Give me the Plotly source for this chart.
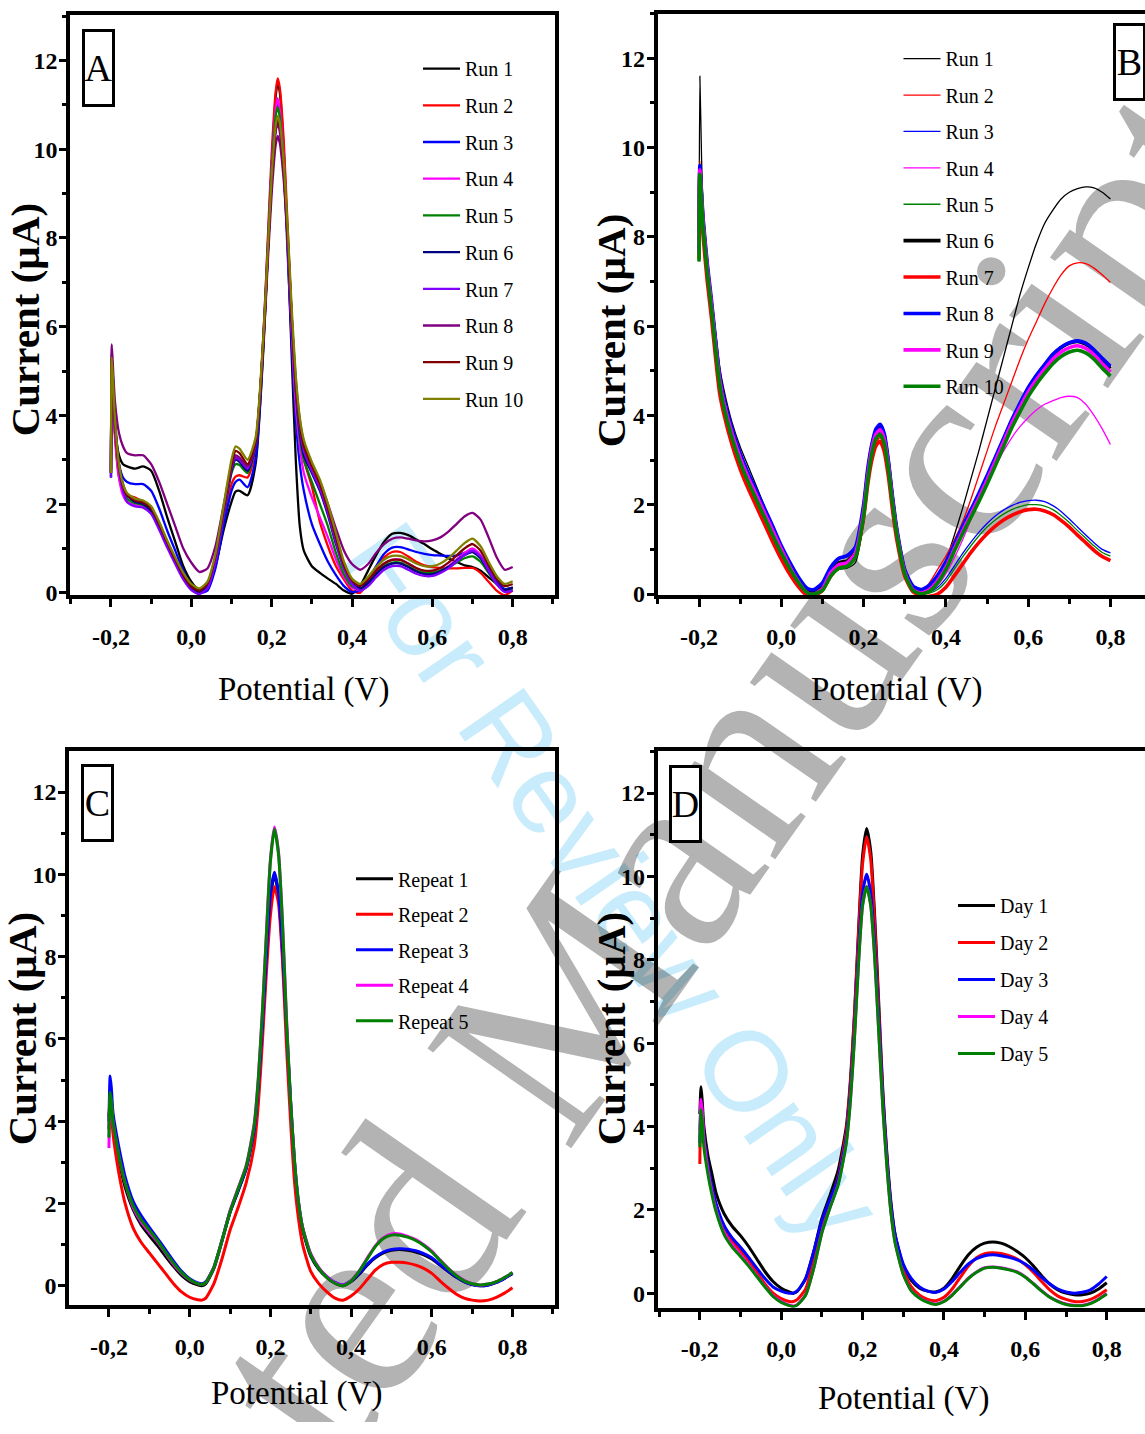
import base64
import plotly.graph_objects as go

W, H = 1145, 1434

# ---------------- Panel A : Run 1..10 ----------------
XA = [-0.2, -0.198, -0.194, -0.19, -0.18, -0.17, -0.16,
      -0.14, -0.12, -0.10, -0.08, -0.06, -0.04, -0.02,
      0.0, 0.02, 0.04, 0.06, 0.08,
      0.10, 0.11, 0.12, 0.14, 0.16, 0.18, 0.19,
      0.20, 0.21, 0.215, 0.22, 0.23, 0.24, 0.25, 0.26, 0.27, 0.28,
      0.30, 0.32, 0.34, 0.36, 0.38, 0.40,
      0.42, 0.44, 0.46, 0.48, 0.50, 0.52, 0.54, 0.56, 0.58, 0.60,
      0.62, 0.64, 0.66, 0.68, 0.70, 0.72, 0.74, 0.76, 0.78, 0.80]

A_RUN1 = [2.75, 5.0, 4.3, 3.7, 3.1, 2.9, 2.85,
          2.8, 2.85, 2.75, 2.3, 1.7, 1.15, 0.6,
          0.25, 0.05, 0.1, 0.6, 1.4,
          2.05, 2.28, 2.3, 2.2, 2.9, 5.6, 7.6,
          9.6, 11.2, 11.5, 11.3, 10.0, 7.8, 5.3, 3.0, 1.5, 0.95,
          0.6, 0.45, 0.32, 0.2, 0.05, -0.02,
          0.15, 0.5, 0.85, 1.15, 1.33, 1.35, 1.3, 1.2, 1.1, 0.98,
          0.88, 0.78, 0.7, 0.62, 0.58, 0.5, 0.35, 0.2, 0.08, 0.12]
A_RUN2 = [2.7, 5.2, 4.4, 3.5, 2.6, 2.3, 2.2,
          2.15, 2.05, 1.9, 1.55, 1.1, 0.7, 0.35,
          0.1, 0.0, 0.1, 0.7, 1.65,
          2.45, 2.62, 2.65, 2.6, 3.2, 5.9, 7.9,
          9.9, 11.3, 11.6, 11.4, 10.2, 8.2, 6.2, 4.5, 3.5, 3.0,
          2.4, 1.6, 1.05, 0.6, 0.3, 0.05,
          0.0, 0.25, 0.55, 0.8, 0.92, 0.92, 0.82, 0.7, 0.62, 0.58,
          0.56, 0.55, 0.55, 0.56, 0.56, 0.45, 0.25, 0.05, -0.05, 0.05]
A_RUN3 = [2.6, 4.9, 4.2, 3.6, 2.9, 2.6, 2.5,
          2.45, 2.45, 2.3, 1.9, 1.4, 0.95, 0.5,
          0.18, 0.0, 0.05, 0.55, 1.5,
          2.3, 2.5, 2.55, 2.38, 3.0, 5.7, 7.7,
          9.6, 10.8, 11.0, 10.8, 9.6, 7.6, 5.6, 3.9, 2.9, 2.3,
          1.55, 1.1, 0.7, 0.4, 0.15, 0.02,
          0.05, 0.3, 0.6, 0.88, 1.02, 1.03, 0.98, 0.92, 0.88, 0.85,
          0.84, 0.83, 0.84, 0.9, 0.95, 0.82, 0.55, 0.28, 0.08, 0.12]
A_RUN4 = [2.7, 5.0, 4.3, 3.6, 2.6, 2.2, 2.05,
          1.98, 1.95, 1.8, 1.45, 1.05, 0.68, 0.35,
          0.1, 0.0, 0.12, 0.72, 1.75,
          2.8, 3.05, 3.0, 2.8, 3.35, 5.9, 7.8,
          9.6, 10.9, 11.15, 10.9, 9.8, 7.9, 5.9, 4.2, 3.3, 2.7,
          2.15, 1.7, 1.25, 0.75, 0.35, 0.12,
          0.05, 0.2, 0.45, 0.65, 0.75, 0.75, 0.66, 0.55, 0.48, 0.46,
          0.5, 0.6, 0.75, 0.9, 1.0, 0.85, 0.5, 0.22, 0.05, 0.1]
A_RUN5 = [2.6, 5.2, 4.5, 3.8, 2.8, 2.35, 2.12,
          2.02, 1.98, 1.83, 1.48, 1.08, 0.7, 0.36,
          0.11, 0.02, 0.14, 0.74, 1.72,
          2.7, 2.9, 2.88, 2.7, 3.3, 5.8, 7.7,
          9.5, 10.75, 10.95, 10.75, 9.7, 8.0, 6.1, 4.5, 3.5, 3.0,
          2.5, 2.0, 1.5, 0.9, 0.42, 0.15,
          0.08, 0.2, 0.42, 0.6, 0.68, 0.68, 0.6, 0.5, 0.45, 0.45,
          0.5, 0.58, 0.68, 0.78, 0.82, 0.7, 0.45, 0.2, 0.06, 0.1]
A_RUN6 = [2.7, 5.4, 4.6, 3.9, 2.9, 2.45, 2.2,
          2.05, 2.0, 1.85, 1.5, 1.1, 0.72, 0.38,
          0.12, 0.02, 0.15, 0.75, 1.75,
          2.75, 3.0, 2.95, 2.75, 3.3, 5.8, 7.6,
          9.3, 10.5, 10.7, 10.5, 9.5, 8.0, 6.2, 4.6, 3.6, 3.1,
          2.7, 2.3, 1.75, 1.1, 0.55, 0.22,
          0.1, 0.22, 0.42, 0.58, 0.66, 0.66, 0.58, 0.48, 0.42, 0.42,
          0.48, 0.58, 0.72, 0.85, 0.92, 0.78, 0.48, 0.22, 0.06, 0.12]
A_RUN7 = [2.6, 5.3, 4.5, 3.8, 2.8, 2.3, 2.05,
          1.95, 1.92, 1.78, 1.42, 1.02, 0.65, 0.3,
          0.06, -0.03, 0.1, 0.7, 1.75,
          2.8, 3.05, 3.0, 2.8, 3.35, 5.8, 7.6,
          9.3, 10.4, 10.6, 10.4, 9.5, 7.9, 6.1, 4.6, 3.7, 3.2,
          2.75, 2.35, 1.8, 1.15, 0.55, 0.2,
          0.05, 0.15, 0.35, 0.52, 0.6, 0.6, 0.52, 0.43, 0.38, 0.38,
          0.45, 0.55, 0.7, 0.85, 0.95, 0.82, 0.5, 0.2, 0.02, 0.05]
A_RUN8 = [2.8, 5.6, 4.9, 4.3, 3.6, 3.3, 3.15,
          3.1, 3.1, 2.9, 2.5, 2.0, 1.5, 1.0,
          0.68, 0.47, 0.55, 1.05, 1.95,
          2.85, 3.1, 3.05, 2.85, 3.4, 5.7, 7.4,
          9.0, 10.1, 10.3, 10.15, 9.3, 7.9, 6.2, 4.8, 3.9, 3.4,
          2.9, 2.5, 2.0, 1.45, 0.95, 0.65,
          0.52, 0.65, 0.9, 1.1, 1.22, 1.25, 1.22, 1.18, 1.16, 1.18,
          1.25, 1.38, 1.55, 1.72, 1.8, 1.65, 1.25, 0.8, 0.52, 0.58]
A_RUN9 = [2.7, 5.3, 4.5, 3.8, 2.85, 2.4, 2.2,
          2.08, 2.04, 1.9, 1.55, 1.14, 0.75, 0.4,
          0.14, 0.05, 0.2, 0.82, 1.85,
          2.9, 3.2, 3.15, 2.9, 3.4, 5.8, 7.6,
          9.3, 10.45, 10.65, 10.5, 9.6, 8.0, 6.2, 4.7, 3.8, 3.3,
          2.85, 2.45, 1.9, 1.25, 0.62, 0.28,
          0.15, 0.3, 0.5, 0.66, 0.74, 0.74, 0.66, 0.56, 0.5, 0.5,
          0.56, 0.68, 0.84, 1.0, 1.1, 0.95, 0.62, 0.32, 0.15, 0.2]
A_RUN10 = [2.7, 5.3, 4.6, 3.9, 2.9, 2.45, 2.25,
           2.12, 2.08, 1.95, 1.6, 1.18, 0.8, 0.45,
           0.2, 0.1, 0.25, 0.88, 1.95,
           3.0, 3.3, 3.25, 3.0, 3.5, 5.9, 7.7,
           9.4, 10.55, 10.75, 10.6, 9.7, 8.2, 6.4, 4.9, 3.95, 3.45,
           2.95, 2.55, 2.0, 1.35, 0.7, 0.32,
           0.2, 0.36, 0.58, 0.75, 0.83, 0.83, 0.76, 0.66, 0.6, 0.6,
           0.66, 0.78, 0.95, 1.12, 1.22, 1.05, 0.7, 0.38, 0.2, 0.26]

# ---------------- Panel B : Run 1..10 ----------------
XB = [-0.2, -0.198, -0.194, -0.19, -0.18, -0.17, -0.16,
      -0.15, -0.14,
      -0.12, -0.10, -0.08, -0.06, -0.04, -0.02,
      0.0, 0.02, 0.04, 0.06, 0.07, 0.08,
      0.10, 0.12, 0.14, 0.16, 0.18,
      0.20, 0.21, 0.22, 0.23, 0.24, 0.25, 0.26, 0.27, 0.28,
      0.30, 0.32, 0.34, 0.36, 0.38, 0.40,
      0.42, 0.44, 0.46, 0.48, 0.50, 0.52, 0.54, 0.56, 0.58, 0.60,
      0.62, 0.64, 0.66, 0.68, 0.70, 0.72, 0.74, 0.76, 0.78, 0.80]

B_RUN1 = [7.8, 11.6, 9.8, 8.6, 7.5, 6.7, 5.9,
          5.1, 4.6,
          3.85, 3.3, 2.85, 2.4, 1.95, 1.5,
          1.1, 0.72, 0.4, 0.15, 0.08, 0.08,
          0.15, 0.42, 0.55, 0.58, 0.7,
          1.6, 2.5, 3.15, 3.5, 3.62, 3.4, 2.8, 2.05, 1.4,
          0.55, 0.18, 0.08, 0.12, 0.35, 0.75,
          1.3, 1.9, 2.55, 3.2, 3.9, 4.6, 5.3, 6.0, 6.7, 7.3,
          7.85, 8.3, 8.6, 8.85, 9.0, 9.08, 9.12, 9.1, 9.0, 8.85]
B_RUN2 = [7.6, 9.7, 8.8, 8.2, 7.2, 6.4, 5.5,
          4.7, 4.2,
          3.5, 2.95, 2.5, 2.1, 1.7, 1.3,
          0.92, 0.58, 0.28, 0.05, 0.0, 0.0,
          0.12, 0.45, 0.62, 0.66, 0.85,
          1.75, 2.55, 3.1, 3.4, 3.5, 3.3, 2.75, 2.0, 1.35,
          0.5, 0.15, 0.05, 0.25, 0.55, 0.85,
          1.2, 1.6, 2.1, 2.65, 3.2, 3.75, 4.25, 4.75, 5.25, 5.7,
          6.1, 6.5, 6.85, 7.15, 7.35, 7.42, 7.4, 7.3, 7.15, 6.98]
B_RUN3 = [7.7, 9.6, 8.9, 8.3, 7.3, 6.5, 5.6,
          4.8, 4.3,
          3.6, 3.05, 2.6, 2.2, 1.8, 1.4,
          1.0, 0.66, 0.36, 0.12, 0.08, 0.08,
          0.22, 0.58, 0.78, 0.84, 1.05,
          2.0, 2.8, 3.35, 3.7, 3.8, 3.6, 3.0, 2.2, 1.5,
          0.55, 0.18, 0.08, 0.05, 0.15, 0.35,
          0.62, 0.9, 1.15, 1.38, 1.58, 1.75, 1.88, 1.98, 2.05, 2.09,
          2.1, 2.07, 1.98, 1.85, 1.68, 1.5, 1.32, 1.15, 1.0, 0.92]
B_RUN4 = [7.6, 9.5, 8.8, 8.2, 7.2, 6.4, 5.5,
          4.75, 4.25,
          3.55, 3.0, 2.55, 2.15, 1.75, 1.35,
          0.95, 0.6, 0.3, 0.06, 0.02, 0.02,
          0.15, 0.5, 0.68, 0.72, 0.92,
          1.85, 2.65, 3.25, 3.6, 3.7, 3.5, 2.9, 2.1, 1.42,
          0.5, 0.12, 0.03, 0.05, 0.2, 0.45,
          0.8, 1.2, 1.65, 2.1, 2.5, 2.85, 3.2, 3.5, 3.75, 3.95,
          4.12, 4.25, 4.33, 4.4, 4.43, 4.4, 4.25, 4.0, 3.7, 3.35]
B_RUN5 = [7.45, 9.4, 8.7, 8.1, 7.1, 6.3, 5.45,
          4.7, 4.2,
          3.5, 2.95, 2.5, 2.1, 1.7, 1.3,
          0.92, 0.58, 0.28, 0.05, 0.0, 0.0,
          0.1, 0.38, 0.55, 0.6, 0.8,
          1.7, 2.5, 3.1, 3.45, 3.55, 3.35, 2.8, 2.05, 1.38,
          0.48, 0.12, 0.02, 0.02, 0.1, 0.28,
          0.55, 0.82, 1.07, 1.3, 1.5, 1.66, 1.79, 1.89, 1.96, 2.0,
          2.0, 1.97, 1.89, 1.76, 1.6, 1.42, 1.25, 1.08, 0.93, 0.85]
B_RUN6 = [7.6, 9.5, 8.9, 8.3, 7.3, 6.5, 5.6,
          4.8, 4.3,
          3.6, 3.05, 2.6, 2.2, 1.8, 1.4,
          1.0, 0.65, 0.35, 0.1, 0.05, 0.05,
          0.18, 0.52, 0.7, 0.74, 0.95,
          1.9, 2.7, 3.3, 3.65, 3.78, 3.55, 2.95, 2.15, 1.45,
          0.5, 0.12, 0.06, 0.15, 0.35, 0.65,
          1.05, 1.45, 1.82, 2.2, 2.6, 3.02, 3.45, 3.88, 4.25, 4.6,
          4.88, 5.12, 5.35, 5.52, 5.62, 5.66, 5.6, 5.45, 5.25, 5.05]
B_RUN7 = [7.5, 9.4, 8.6, 8.0, 7.0, 6.2, 5.3,
          4.5, 4.05,
          3.35, 2.8, 2.35, 1.95, 1.55, 1.15,
          0.78, 0.45, 0.18, -0.02, -0.05, -0.04,
          0.08, 0.4, 0.6, 0.65, 0.85,
          1.7, 2.45, 3.0, 3.32, 3.42, 3.2, 2.65, 1.9, 1.25,
          0.4, 0.05, -0.05, -0.05, 0.0, 0.15,
          0.4, 0.66, 0.92, 1.15, 1.35, 1.52, 1.66, 1.76, 1.84, 1.89,
          1.9, 1.86, 1.78, 1.65, 1.5, 1.32, 1.15, 0.98, 0.84, 0.75]
B_RUN8 = [7.7, 9.6, 9.0, 8.4, 7.4, 6.6, 5.7,
          4.9, 4.4,
          3.7, 3.15, 2.7, 2.3, 1.9, 1.5,
          1.08, 0.72, 0.4, 0.15, 0.1, 0.1,
          0.25, 0.6, 0.8, 0.86, 1.05,
          2.0, 2.8, 3.35, 3.7, 3.8, 3.6, 3.0, 2.2, 1.5,
          0.55, 0.18, 0.1, 0.2, 0.42, 0.72,
          1.1, 1.5, 1.87, 2.25, 2.65, 3.06, 3.48, 3.9, 4.27, 4.62,
          4.9, 5.14, 5.37, 5.53, 5.63, 5.67, 5.62, 5.47, 5.28, 5.1]
B_RUN9 = [7.6, 9.5, 8.9, 8.3, 7.3, 6.5, 5.6,
          4.8, 4.3,
          3.6, 3.05, 2.6, 2.2, 1.8, 1.4,
          1.0, 0.62, 0.3, 0.05, 0.0, 0.0,
          0.12, 0.48, 0.66, 0.7, 0.92,
          1.85, 2.65, 3.25, 3.58, 3.68, 3.48, 2.9, 2.1, 1.42,
          0.48, 0.1, 0.02, 0.1, 0.3, 0.6,
          1.0, 1.4, 1.77, 2.15, 2.55, 2.97, 3.4, 3.82, 4.18, 4.52,
          4.8, 5.04, 5.26, 5.42, 5.52, 5.56, 5.5, 5.36, 5.16, 4.98]
B_RUN10 = [7.45, 9.4, 8.8, 8.2, 7.2, 6.4, 5.5,
           4.7, 4.2,
           3.5, 2.95, 2.5, 2.1, 1.7, 1.3,
           0.92, 0.58, 0.28, 0.05, 0.0, 0.0,
           0.08, 0.4, 0.58, 0.62, 0.82,
           1.75, 2.55, 3.15, 3.48, 3.58, 3.38, 2.82, 2.05, 1.38,
           0.45, 0.08, 0.0, 0.06, 0.25, 0.55,
           0.95, 1.34, 1.7, 2.07, 2.46, 2.87, 3.3, 3.72, 4.08, 4.42,
           4.7, 4.94, 5.16, 5.32, 5.42, 5.46, 5.4, 5.26, 5.06, 4.88]

# ---------------- Panels C and D share a potential grid ----------------
XCD = [-0.2, -0.197, -0.194, -0.19, -0.18, -0.17, -0.16,
       -0.14, -0.12, -0.10, -0.08, -0.06, -0.04, -0.02,
       0.0, 0.02, 0.03, 0.04, 0.06, 0.08,
       0.10, 0.12, 0.14, 0.16, 0.17, 0.18, 0.19,
       0.20, 0.21, 0.22, 0.23, 0.24, 0.25, 0.26, 0.27, 0.28,
       0.30, 0.32, 0.34, 0.36, 0.38, 0.40,
       0.42, 0.44, 0.46, 0.48, 0.50, 0.52, 0.54, 0.56, 0.58, 0.60,
       0.62, 0.64, 0.66, 0.68, 0.70, 0.72, 0.74, 0.76, 0.78, 0.80]

C_REPEAT1 = [3.8, 4.6, 4.4, 3.9, 3.3, 2.8, 2.4,
             1.85, 1.48, 1.22, 0.98, 0.72, 0.47, 0.25,
             0.1, 0.02, 0.0, 0.05, 0.42, 1.08,
             1.78, 2.3, 2.85, 3.8, 4.8, 6.2, 7.9,
             9.4, 10.0, 9.5, 8.1, 6.2, 4.4, 2.9, 1.95, 1.35,
             0.72, 0.4, 0.2, 0.06, 0.0, 0.1,
             0.28, 0.5, 0.68, 0.8, 0.86, 0.88, 0.86, 0.82, 0.75, 0.65,
             0.5, 0.35, 0.21, 0.1, 0.03, 0.0, 0.02, 0.08, 0.18, 0.3]
C_REPEAT2 = [4.1, 4.5, 4.2, 3.7, 3.0, 2.45, 2.0,
             1.4, 1.05, 0.8, 0.55, 0.3, 0.05, -0.15,
             -0.28, -0.34, -0.35, -0.3, 0.05, 0.65,
             1.35, 1.9, 2.5, 3.4, 4.4, 5.9, 7.6,
             9.0, 9.7, 9.3, 7.9, 5.8, 4.0, 2.5, 1.6, 1.0,
             0.35, 0.05, -0.15, -0.3, -0.35, -0.25,
             -0.08, 0.15, 0.38, 0.52, 0.57, 0.57, 0.55, 0.5, 0.42, 0.3,
             0.12, -0.05, -0.2, -0.3, -0.35, -0.37, -0.35, -0.28, -0.18, -0.05]
C_REPEAT3 = [4.0, 5.1, 4.8, 4.2, 3.6, 3.1, 2.65,
             2.05, 1.7, 1.42, 1.15, 0.88, 0.6, 0.35,
             0.17, 0.07, 0.05, 0.1, 0.45, 1.1,
             1.8, 2.32, 2.85, 3.8, 4.85, 6.3, 8.0,
             9.5, 10.05, 9.55, 8.2, 6.3, 4.5, 3.0, 2.0, 1.4,
             0.75, 0.42, 0.22, 0.08, 0.02, 0.12,
             0.3, 0.52, 0.7, 0.82, 0.88, 0.9, 0.89, 0.85, 0.78, 0.68,
             0.52, 0.36, 0.22, 0.1, 0.03, 0.0, 0.02, 0.08, 0.18, 0.3]
C_REPEAT4 = [3.35, 4.6, 4.45, 4.0, 3.4, 2.9, 2.5,
             1.9, 1.55, 1.3, 1.07, 0.8, 0.52, 0.3,
             0.14, 0.05, 0.03, 0.08, 0.45, 1.1,
             1.82, 2.37, 2.92, 3.95, 5.05, 6.65, 8.55,
             10.35, 11.15, 10.55, 8.85, 6.5, 4.5, 3.0, 2.02, 1.42,
             0.78, 0.44, 0.22, 0.07, 0.01, 0.13,
             0.36, 0.67, 0.97, 1.17, 1.26, 1.26, 1.2, 1.12, 1.0, 0.84,
             0.63, 0.43, 0.26, 0.13, 0.05, 0.02, 0.04, 0.1, 0.2, 0.32]
C_REPEAT5 = [3.6, 4.7, 4.5, 4.0, 3.4, 2.9, 2.5,
             1.95, 1.6, 1.35, 1.1, 0.82, 0.55, 0.32,
             0.15, 0.05, 0.03, 0.08, 0.45, 1.1,
             1.8, 2.35, 2.9, 3.9, 5.0, 6.6, 8.5,
             10.3, 11.1, 10.5, 8.8, 6.4, 4.5, 3.0, 2.0, 1.4,
             0.75, 0.42, 0.2, 0.06, 0.0, 0.12,
             0.35, 0.65, 0.95, 1.15, 1.23, 1.23, 1.18, 1.1, 0.98, 0.82,
             0.62, 0.42, 0.25, 0.12, 0.05, 0.02, 0.04, 0.1, 0.2, 0.32]

D_DAY1 = [4.3, 4.95, 4.6, 4.0, 3.3, 2.85, 2.4,
          1.9, 1.6, 1.38, 1.12, 0.82, 0.52, 0.28,
          0.12, 0.03, 0.0, 0.05, 0.35, 1.0,
          1.8, 2.35, 2.95, 4.0, 5.1, 6.7, 8.7,
          10.5, 11.15, 10.6, 9.0, 6.9, 4.8, 3.3, 2.15, 1.4,
          0.65, 0.3, 0.12, 0.05, 0.03, 0.12,
          0.35, 0.65, 0.92, 1.1, 1.2, 1.23, 1.2, 1.12, 1.0, 0.85,
          0.65, 0.42, 0.22, 0.08, 0.0, -0.04, -0.04, 0.0, 0.1, 0.25]
D_DAY2 = [3.1, 4.55, 4.3, 3.7, 3.0, 2.5, 2.1,
          1.55, 1.25, 1.02, 0.78, 0.5, 0.22, 0.0,
          -0.13, -0.2, -0.2, -0.15, 0.1, 0.8,
          1.62, 2.2, 2.78, 3.9, 5.0, 6.6, 8.6,
          10.3, 10.95, 10.4, 8.8, 6.7, 4.7, 3.2, 2.0, 1.3,
          0.55, 0.15, -0.05, -0.15, -0.18, -0.1,
          0.1, 0.38, 0.65, 0.85, 0.95, 0.97, 0.95, 0.9, 0.82, 0.68,
          0.5, 0.28, 0.08, -0.07, -0.15, -0.2, -0.2, -0.15, -0.05, 0.08]
D_DAY3 = [3.6, 4.5, 4.3, 3.75, 3.05, 2.55, 2.15,
          1.62, 1.32, 1.1, 0.86, 0.6, 0.35, 0.15,
          0.05, 0.0, 0.0, 0.06, 0.35, 1.0,
          1.75, 2.25, 2.75, 3.75, 4.8, 6.3, 8.2,
          9.6, 10.05, 9.6, 8.3, 6.5, 4.65, 3.2, 2.1, 1.4,
          0.7, 0.35, 0.15, 0.05, 0.02, 0.1,
          0.28, 0.5, 0.7, 0.83, 0.9, 0.92, 0.9, 0.86, 0.8, 0.7,
          0.55, 0.38, 0.22, 0.1, 0.03, 0.0, 0.02, 0.08, 0.22, 0.4]
D_DAY4 = [3.9, 4.65, 4.35, 3.7, 2.95, 2.42, 2.0,
          1.45, 1.15, 0.92, 0.68, 0.42, 0.17, -0.06,
          -0.2, -0.29, -0.31, -0.27, -0.04, 0.6,
          1.46, 2.06, 2.62, 3.62, 4.62, 6.12, 7.92,
          9.32, 9.76, 9.32, 8.02, 6.22, 4.42, 3.02, 1.92, 1.22,
          0.46, 0.06, -0.11, -0.21, -0.26, -0.19,
          -0.04, 0.16, 0.36, 0.51, 0.61, 0.63, 0.61, 0.57, 0.51, 0.39,
          0.23, 0.06, -0.09, -0.19, -0.26, -0.29, -0.29, -0.24, -0.14, -0.01]
D_DAY5 = [3.5, 4.4, 4.1, 3.5, 2.85, 2.35, 1.95,
          1.4, 1.1, 0.88, 0.65, 0.4, 0.15, -0.08,
          -0.22, -0.3, -0.32, -0.28, -0.05, 0.6,
          1.45, 2.05, 2.6, 3.6, 4.6, 6.1, 7.9,
          9.3, 9.75, 9.3, 8.0, 6.2, 4.4, 3.0, 1.9, 1.2,
          0.45, 0.05, -0.12, -0.22, -0.27, -0.2,
          -0.05, 0.15, 0.35, 0.5, 0.6, 0.62, 0.6, 0.56, 0.5, 0.38,
          0.22, 0.05, -0.1, -0.2, -0.27, -0.3, -0.3, -0.25, -0.15, -0.02]

# ---------------- labels / ticks ----------------
RUN_LABELS = ["Run 1", "Run 2", "Run 3", "Run 4", "Run 5",
              "Run 6", "Run 7", "Run 8", "Run 9", "Run 10"]
REPEAT_LABELS = ["Repeat 1", "Repeat 2", "Repeat 3", "Repeat 4", "Repeat 5"]
DAY_LABELS = ["Day 1", "Day 2", "Day 3", "Day 4", "Day 5"]
PANEL_LETTERS = ["A", "B", "C", "D"]
X_TICK_VALUES = [-0.2, 0.0, 0.2, 0.4, 0.6, 0.8]
X_TICK_LABELS = ["-0,2", "0,0", "0,2", "0,4", "0,6", "0,8"]
Y_TICK_VALUES = [0, 2, 4, 6, 8, 10, 12]
Y_TICK_LABELS = ["0", "2", "4", "6", "8", "10", "12"]
X_TITLE = "Potential (V)"
Y_TITLE = "Current (µA)"

A_SERIES = [A_RUN1, A_RUN2, A_RUN3, A_RUN4, A_RUN5, A_RUN6, A_RUN7, A_RUN8, A_RUN9, A_RUN10]
B_SERIES = [B_RUN1, B_RUN2, B_RUN3, B_RUN4, B_RUN5, B_RUN6, B_RUN7, B_RUN8, B_RUN9, B_RUN10]
C_SERIES = [C_REPEAT1, C_REPEAT2, C_REPEAT3, C_REPEAT4, C_REPEAT5]
D_SERIES = [D_DAY1, D_DAY2, D_DAY3, D_DAY4, D_DAY5]

for grid, series in ((XA, A_SERIES), (XB, B_SERIES), (XCD, C_SERIES), (XCD, D_SERIES)):
    for s in series:
        assert len(s) == len(grid), (len(s), len(grid))

# ---------------- styles ----------------
COLORS10 = ["#000000", "#ff0000", "#0000ff", "#ff00ff", "#008000",
            "#000080", "#8000ff", "#800080", "#800000", "#808000"]
COLORS5 = ["#000000", "#ff0000", "#0000ff", "#ff00ff", "#008000"]
B_COLORS = COLORS5 + COLORS5
B_WIDTHS = [1.3, 1.3, 1.3, 1.3, 1.3, 3.6, 3.6, 3.6, 3.6, 3.6]
SERIF = "Liberation Serif, Times New Roman, serif"

fig = go.Figure()


def add_panel(xs, series, names, colors, widths, xa, ya, legend, tag):
    for i, ys in enumerate(series):
        fig.add_trace(go.Scatter(
            x=xs, y=ys, mode="lines", name=names[i],
            line=dict(color=colors[i], width=widths[i], shape="spline", smoothing=0.6),
            xaxis=xa, yaxis=ya, legend=legend, legendgroup=f"{tag}{i}",
            showlegend=True))


add_panel(XA, A_SERIES, RUN_LABELS, COLORS10, [2.3] * 10, "x", "y", "legend", "A")
add_panel(XB, B_SERIES, RUN_LABELS, B_COLORS, B_WIDTHS, "x2", "y2", "legend2", "B")
add_panel(XCD, C_SERIES, REPEAT_LABELS, COLORS5, [3.0] * 5, "x3", "y3", "legend3", "C")
add_panel(XCD, D_SERIES, DAY_LABELS, COLORS5, [3.0] * 5, "x4", "y4", "legend4", "D")


def xaxis(domain, rng, anchor, mirror=True):
    return dict(
        domain=domain, range=rng, anchor=anchor, showgrid=False, zeroline=False,
        showline=True, linecolor="black", linewidth=3.5, mirror=mirror,
        ticks="outside", ticklen=8, tickwidth=3, tickcolor="black",
        tickmode="array", tickvals=X_TICK_VALUES, ticktext=X_TICK_LABELS,
        tickfont=dict(family=SERIF, size=24, color="black", weight="bold"),
        ticklabelstandoff=9,
        minor=dict(tickmode="linear", tick0=0, dtick=0.1, ticks="outside",
                   ticklen=5, tickwidth=2.5, tickcolor="black", showgrid=False),
    )


def yaxis(domain, rng, anchor, mirror=True):
    return dict(
        domain=domain, range=rng, anchor=anchor, showgrid=False, zeroline=False,
        showline=True, linecolor="black", linewidth=3.5, mirror=mirror,
        ticks="outside", ticklen=7, tickwidth=3, tickcolor="black",
        tickmode="array", tickvals=Y_TICK_VALUES, ticktext=Y_TICK_LABELS,
        tickfont=dict(family=SERIF, size=24, color="black", weight="bold"),
        ticklabelstandoff=-3,
        minor=dict(tickmode="linear", tick0=0, dtick=1, ticks="outside",
                   ticklen=4, tickwidth=2.5, tickcolor="black", showgrid=False),
    )


def fx(p):
    return p / W


def fy(p):
    return 1 - p / H


def legend_cfg(left, top, gap):
    return dict(x=fx(left), y=fy(top), xanchor="left", yanchor="top",
                bgcolor="rgba(0,0,0,0)", borderwidth=0, traceorder="grouped",
                tracegroupgap=gap, itemwidth=37,
                font=dict(family=SERIF, size=20, color="black"))


# watermark drawn underneath everything
wm_svg = (
    f'<svg xmlns="http://www.w3.org/2000/svg" width="{W}" height="{H}" viewBox="0 0 {W} {H}">'
    '<text x="-52" y="2048" transform="rotate(-55 -52 2048)" '
    'font-family="Liberation Serif" font-size="268" fill="#b3b3b3">Accepted Manuscript</text>'
    '<text x="580" y="912" text-anchor="middle" transform="rotate(55 580 912)" '
    'font-family="Liberation Sans" font-size="115" fill="#c8ecfb" '
    'style="mix-blend-mode:multiply">For Review Only</text>'
    '</svg>'
)
wm_src = "data:image/svg+xml;base64," + base64.b64encode(wm_svg.encode("utf-8")).decode("ascii")

annotations = []
for letter, (cx, cy) in zip(PANEL_LETTERS, [(98, 68.5), (1129, 62.5), (97, 810), (685, 811)]):
    annotations.append(dict(
        text=letter, x=fx(cx), y=fy(cy), xref="paper", yref="paper", showarrow=False,
        xanchor="center", yanchor="middle",
        font=dict(family=SERIF, size=38, color="black"),
        bordercolor="black", borderwidth=3, borderpad=0, width=27, height=72,
        bgcolor="white"))

# axis titles placed at the reference positions
for (cx, cy) in [(303, 695), (896, 695), (296, 1405), (903, 1410)]:
    annotations.append(dict(
        text=X_TITLE, x=fx(cx), y=fy(cy), xref="paper", yref="paper", showarrow=False,
        xanchor="center", yanchor="middle",
        font=dict(family=SERIF, size=33, color="black")))
for (cx, cy) in [(25, 322), (611, 333), (22, 1037), (611, 1037)]:
    annotations.append(dict(
        text=Y_TITLE, x=fx(cx), y=fy(cy), xref="paper", yref="paper", showarrow=False,
        xanchor="center", yanchor="middle", textangle=-90,
        font=dict(family=SERIF, size=41, color="black", weight="bold")))

fig.update_layout(
    width=W, height=H, autosize=False,
    margin=dict(l=0, r=0, t=0, b=0),
    paper_bgcolor="white", plot_bgcolor="rgba(0,0,0,0)",
    showlegend=True,
    xaxis=xaxis([fx(70), fx(554.5)], [-0.302, 0.904], "y"),
    yaxis=yaxis([fy(600.5), fy(15)], [-0.06, 13.03], "x"),
    xaxis2=xaxis([fx(657.5), 1.0], [-0.301, 0.884], "y2"),
    yaxis2=yaxis([fy(600.5), fy(13.8)], [-0.033, 13.0], "x2", mirror=False),
    xaxis3=xaxis([fx(69), fx(554.5)], [-0.299, 0.904], "y3"),
    yaxis3=yaxis([fy(1316.5), fy(757.7)], [-0.48, 12.99], "x3"),
    xaxis4=xaxis([fx(657.5), 1.0], [-0.304, 0.894], "y4"),
    yaxis4=yaxis([fy(1318.8), fy(757.7)], [-0.35, 13.0], "x4", mirror=False),
    legend=legend_cfg(418, 49.5, 7.7),
    legend2=legend_cfg(898.5, 39.5, 7.4),
    legend3=legend_cfg(351, 866.5, 6.5),
    legend4=legend_cfg(953, 893.5, 8),
    images=[dict(source=wm_src, xref="paper", yref="paper", x=0, y=1, sizex=1, sizey=1,
                 xanchor="left", yanchor="top", sizing="stretch", layer="below")],
    annotations=annotations,
)

fig.write_html("out.html")
